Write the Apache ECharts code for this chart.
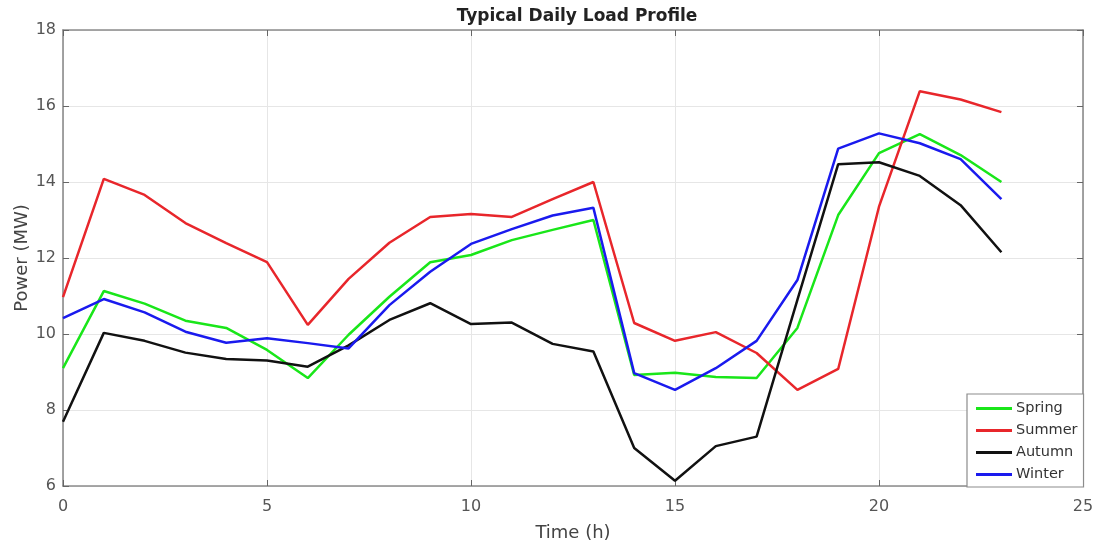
<!DOCTYPE html>
<html>
<head>
<meta charset="utf-8">
<script src="https://cdn.jsdelivr.net/npm/echarts@6/dist/echarts.min.js"></script>
<style>html,body{margin:0;padding:0;background:#fff}#c{width:1102px;height:549px}</style>
</head>
<body>
<div id="c"></div>
<script>
const hours = [0,1,2,3,4,5,6,7,8,9,10,11,12,13,14,15,16,17,18,19,20,21,22,23];
const spring = [9.1,11.13,10.8,10.35,10.16,9.58,8.84,9.98,10.98,11.89,12.08,12.47,12.74,13.0,8.92,8.98,8.87,8.84,10.16,13.13,14.76,15.26,14.71,14.0];
const summer = [10.97,14.08,13.66,12.92,12.39,11.89,10.24,11.45,12.4,13.08,13.16,13.08,13.55,14.0,10.29,9.82,10.05,9.5,8.53,9.08,13.35,16.39,16.17,15.84];
const autumn = [7.69,10.03,9.82,9.51,9.34,9.3,9.14,9.7,10.37,10.81,10.26,10.3,9.74,9.54,7.0,6.14,7.05,7.3,10.9,14.47,14.52,14.16,13.39,12.15];
const winter = [10.42,10.92,10.57,10.06,9.77,9.89,9.76,9.62,10.76,11.64,12.37,12.76,13.12,13.32,8.97,8.53,9.1,9.82,11.42,14.88,15.28,15.02,14.6,13.55];
const seriesNames = ['Spring','Summer','Autumn','Winter'];
const xTicks = {min:0, max:25, interval:5};
const yTicks = {min:6, max:18, interval:2};

const colors = ['#19e619','#e8262b','#111111','#1a1aee'];
const dataSets = [spring, summer, autumn, winter];
const axisColor = '#8c8c8c';
const labelColor = '#555555';
const ff = 'DejaVu Sans';

const chart = echarts.init(document.getElementById('c'));
chart.setOption({
  animation: false,
  backgroundColor: '#ffffff',
  title: {
    text: 'Typical Daily Load Profile',
    left: 572, top: 3, textAlign: 'center',
    textStyle: {fontFamily: ff, fontSize: 17, fontWeight: 'bold', color: '#222222'}
  },
  grid: {left: 63, right: 19, top: 30, bottom: 63, containLabel: false, outerBoundsMode: 'none'},
  legend: {
    data: seriesNames,
    orient: 'vertical',
    left: 967, top: 394,
    icon: 'rect',
    itemWidth: 36, itemHeight: 3, itemGap: 7,
    padding: [7, 6, 5, 9],
    borderColor: axisColor, borderWidth: 1.2,
    backgroundColor: '#ffffff',
    textStyle: {fontFamily: ff, fontSize: 14.5, color: '#333333', padding: [0, 0, 0, -1]}
  },
  xAxis: [{
    type: 'value', min: xTicks.min, max: xTicks.max, interval: xTicks.interval,
    name: 'Time (h)', nameLocation: 'middle', nameGap: 38, nameMoveOverlap: false,
    nameTextStyle: {fontFamily: ff, fontSize: 18, color: '#444444'},
    axisLine: {show: true, onZero: false, lineStyle: {color: axisColor, width: 1.6}},
    axisTick: {show: true, inside: true, length: 6, lineStyle: {color: '#666666'}},
    axisLabel: {fontFamily: ff, fontSize: 16, color: labelColor, margin: 13},
    splitLine: {show: true, lineStyle: {color: '#e6e6e6', width: 1}}
  }, {
    type: 'value', position: 'top', min: xTicks.min, max: xTicks.max, interval: xTicks.interval,
    axisLine: {show: true, onZero: false, lineStyle: {color: axisColor, width: 1.6}},
    axisTick: {show: true, inside: true, length: 6, lineStyle: {color: '#666666'}},
    axisLabel: {show: false}, splitLine: {show: false}
  }],
  yAxis: [{
    type: 'value', min: yTicks.min, max: yTicks.max, interval: yTicks.interval,
    name: 'Power (MW)', nameLocation: 'middle', nameGap: 32, nameMoveOverlap: false,
    nameTextStyle: {fontFamily: ff, fontSize: 18, color: '#444444'},
    axisLine: {show: true, onZero: false, lineStyle: {color: axisColor, width: 1.6}},
    axisTick: {show: true, inside: true, length: 6, lineStyle: {color: '#666666'}},
    axisLabel: {fontFamily: ff, fontSize: 16, color: labelColor, margin: 7},
    splitLine: {show: true, lineStyle: {color: '#e6e6e6', width: 1}}
  }, {
    type: 'value', position: 'right', min: yTicks.min, max: yTicks.max, interval: yTicks.interval,
    axisLine: {show: true, onZero: false, lineStyle: {color: axisColor, width: 1.6}},
    axisTick: {show: true, inside: true, length: 6, lineStyle: {color: '#666666'}},
    axisLabel: {show: false}, splitLine: {show: false}
  }],
  series: seriesNames.map((n, i) => ({
    name: n, type: 'line', symbol: 'none', showSymbol: false,
    xAxisIndex: 0, yAxisIndex: 0,
    data: hours.map((h, j) => [h, dataSets[i][j]]),
    lineStyle: {color: colors[i], width: 2.5},
    itemStyle: {color: colors[i]}
  }))
});
</script>
</body>
</html>
